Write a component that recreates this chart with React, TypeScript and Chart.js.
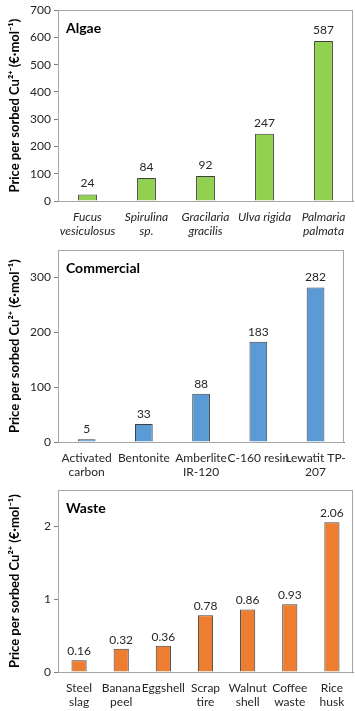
import React, { useEffect, useRef } from 'react';
import { Chart, registerables } from 'chart.js';
Chart.register(...registerables);

const yTitle = 'Price per sorbed Cu\u00B2\u207A (\u20AC\u00B7mol\u207B\u00B9)';

const algaeLabels = [['Fucus', 'vesiculosus'], ['Spirulina', 'sp.'], ['Gracilaria', 'gracilis'], ['Ulva rigida'], ['Palmaria', 'palmata']];
const algaeValues = [24, 84, 92, 247, 587];

const commercialLabels = [['Activated', 'carbon'], ['Bentonite'], ['Amberlite', 'IR-120'], ['C-160 resin'], ['Lewatit TP-', '207']];
const commercialValues = [5, 33, 88, 183, 282];

const wasteLabels = [['Steel', 'slag'], ['Banana', 'peel'], ['Eggshell'], ['Scrap', 'tire'], ['Walnut', 'shell'], ['Coffee', 'waste'], ['Rice', 'husk']];
const wasteValues = [0.16, 0.32, 0.36, 0.78, 0.86, 0.93, 2.06];

const FONT = 'Lato, "Open Sans", sans-serif';

type PanelProps = {
  title: string;
  labels: string[][];
  values: number[];
  color: string;
  italic: boolean;
  yMax: number;
  yStep: number;
  decimals: number;
  top: number;
  height: number;
  padTop: number;
  xAxisHeight: number;
  barFrac: number;
  labelGap: number;
};

function Panel(p: PanelProps) {
  const ref = useRef<HTMLCanvasElement | null>(null);
  useEffect(() => {
    if (!ref.current) return;
    const isLabeled = (v: number) => Math.abs(v / p.yStep - Math.round(v / p.yStep)) < 1e-6;
    const decor = {
      id: 'decor',
      beforeDatasetsDraw(chart: any) {
        const { ctx, chartArea } = chart;
        ctx.save();
        ctx.strokeStyle = '#a6a6a6';
        ctx.lineWidth = 1;
        ctx.strokeRect(Math.round(chartArea.left) + 0.5, Math.round(chartArea.top) + 0.5, Math.round(chartArea.right - chartArea.left) - 1, Math.round(chartArea.bottom - chartArea.top));
        ctx.restore();
      },
      afterDatasetsDraw(chart: any) {
        const { ctx, chartArea } = chart;
        ctx.save();
        ctx.fillStyle = '#000';
        ctx.font = `bold 14px ${FONT}`;
        ctx.textAlign = 'left';
        ctx.textBaseline = 'middle';
        ctx.fillText(p.title, chartArea.left + 8, chartArea.top + 18);
        ctx.font = `12px ${FONT}`;
        ctx.fillStyle = '#262626';
        ctx.textAlign = 'center';
        ctx.textBaseline = 'alphabetic';
        const meta = chart.getDatasetMeta(0);
        meta.data.forEach((bar: any, i: number) => {
          ctx.fillText(p.values[i].toFixed(p.decimals), bar.x, bar.y - p.labelGap);
        });
        ctx.restore();
      },
    };
    const chart = new Chart(ref.current, {
      type: 'bar',
      data: {
        labels: p.labels,
        datasets: [
          {
            data: p.values,
            backgroundColor: p.color,
            borderColor: '#404040',
            borderWidth: 1,
            barPercentage: p.barFrac,
            categoryPercentage: 1,
          },
        ],
      },
      options: {
        responsive: false,
        animation: false,
        devicePixelRatio: 1,
        layout: { padding: { top: p.padTop, right: 2, left: 0, bottom: 0 } },
        plugins: { legend: { display: false }, tooltip: { enabled: false } },
        scales: {
          x: {
            grid: { display: false, drawTicks: false },
            border: { display: true, color: '#7f7f7f', width: 1 },
            ticks: {
              color: '#262626',
              font: { family: FONT, size: 12, style: p.italic ? 'italic' : 'normal' },
              padding: 9,
              maxRotation: 0,
              minRotation: 0,
              autoSkip: false,
            },
            afterFit(scale: any) {
              scale.height = p.xAxisHeight;
            },
          },
          y: {
            min: 0,
            max: p.yMax,
            grid: {
              display: true,
              drawOnChartArea: false,
              drawTicks: true,
              tickLength: 4,
              color: (c: any) => (c.tick && isLabeled(c.tick.value) ? '#7f7f7f' : 'rgba(0,0,0,0)'),
            },
            border: { display: true, color: '#7f7f7f', width: 1 },
            ticks: {
              stepSize: p.yStep,
              color: '#262626',
              padding: 3,
              font: { family: FONT, size: 12 },
              callback: (v: any) => (isLabeled(Number(v)) ? String(v) : ''),
            },
            title: {
              display: true,
              text: yTitle,
              color: '#000',
              font: { family: FONT, size: 13, weight: 'bold' },
              padding: { top: 7, bottom: 0 },
            },
            afterFit(scale: any) {
              scale.width = 58;
            },
          },
        },
      },
      plugins: [decor],
    } as any);
    return () => chart.destroy();
  }, []);
  return (
    <div style={{ position: 'absolute', left: 0, top: p.top, width: 355, height: p.height }}>
      <canvas ref={ref} width={355} height={p.height} style={{ display: 'block', width: 355, height: p.height }} />
    </div>
  );
}

export default function App() {
  return (
    <div style={{ position: 'absolute', left: 0, top: 0, width: 355, height: 711, background: '#fff' }}>
      <Panel title="Algae" labels={algaeLabels} values={algaeValues} color="#92D050" italic={true}
        yMax={700} yStep={100} decimals={0} top={0} height={240} padTop={7} xAxisHeight={39} barFrac={0.32} labelGap={7} />
      <Panel title="Commercial" labels={commercialLabels} values={commercialValues} color="#5B9BD5" italic={false}
        yMax={350} yStep={100} decimals={0} top={240} height={240} padTop={7} xAxisHeight={38} barFrac={0.31} labelGap={6} />
      <Panel title="Waste" labels={wasteLabels} values={wasteValues} color="#ED7D31" italic={false}
        yMax={2.5} yStep={1} decimals={2} top={480} height={231} padTop={6} xAxisHeight={39} barFrac={0.36} labelGap={5} />
    </div>
  );
}
